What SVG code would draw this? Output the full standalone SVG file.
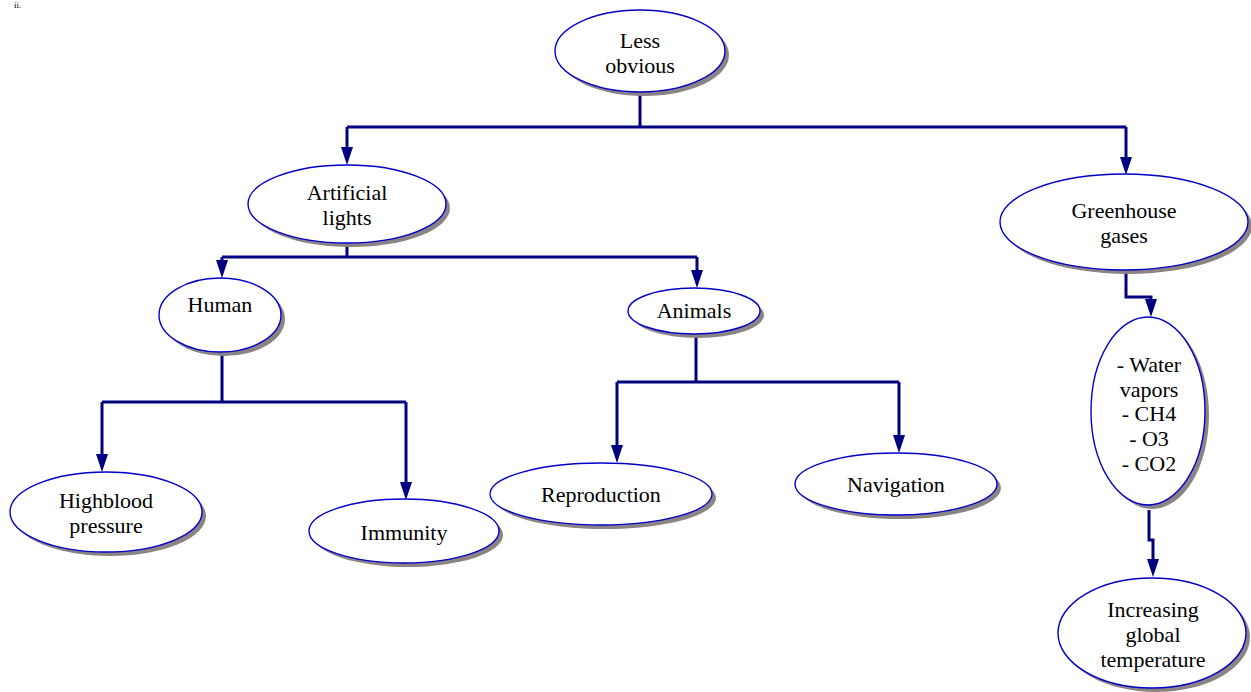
<svg xmlns="http://www.w3.org/2000/svg" width="1251" height="692" viewBox="0 0 1251 692" font-family="'Liberation Serif', 'Times New Roman', serif">
  <style>
    .shadow { fill: #8c8484; }
    .node { fill: #ffffff; stroke: #0000cc; stroke-width: 1.4; }
    .label { font-family: 'Liberation Serif', 'Times New Roman', 'DejaVu Serif', serif; font-size: 22px; fill: #000000; text-anchor: middle; }
    .link { fill: none; stroke: #000080; stroke-width: 3; }
    .mark { font-family: 'Liberation Serif', serif; font-size: 9px; fill: #000000; }
  </style>
  <defs>
    <marker id="arrow" markerUnits="userSpaceOnUse" markerWidth="18" markerHeight="12" viewBox="0 0 18 12" refX="0" refY="6" orient="auto">
      <path d="M0,0 L18,6 L0,12 z" fill="#000080"/>
    </marker>
  </defs>

  <rect width="1251" height="692" fill="#ffffff"/>
  <text class="mark" x="14" y="8">ii.</text>

  <!-- connectors -->
  <g id="connectors">
    <path class="link" d="M640,92 V127"/>
    <path class="link" d="M347,127 H1126"/>
    <path class="link" d="M347,127 V147" marker-end="url(#arrow)"/>
    <path class="link" d="M1126,127 V157" marker-end="url(#arrow)"/>

    <path class="link" d="M347,244 V257"/>
    <path class="link" d="M222,257 H697"/>
    <path class="link" d="M222,257 V260" marker-end="url(#arrow)"/>
    <path class="link" d="M697,257 V270" marker-end="url(#arrow)"/>

    <path class="link" d="M222,352 V402"/>
    <path class="link" d="M102,402 H406"/>
    <path class="link" d="M102,402 V454" marker-end="url(#arrow)"/>
    <path class="link" d="M406,402 V482" marker-end="url(#arrow)"/>

    <path class="link" d="M696,333 V382"/>
    <path class="link" d="M617,382 H899"/>
    <path class="link" d="M617,382 V445" marker-end="url(#arrow)"/>
    <path class="link" d="M899,382 V435" marker-end="url(#arrow)"/>

    <path class="link" d="M1126,270 V297 H1151 V299" marker-end="url(#arrow)"/>
    <path class="link" d="M1149,510 V540 H1153 V559" marker-end="url(#arrow)"/>
  </g>

  <!-- nodes -->
  <g id="less-obvious">
    <ellipse class="shadow" cx="644" cy="55" rx="85" ry="41"/>
    <ellipse class="node" cx="640" cy="51" rx="85" ry="41"/>
    <text class="label" x="640" y="48">Less</text>
    <text class="label" x="640" y="73">obvious</text>
  </g>

  <g id="artificial-lights">
    <ellipse class="shadow" cx="351" cy="208" rx="99" ry="39"/>
    <ellipse class="node" cx="347" cy="204" rx="99" ry="39"/>
    <text class="label" x="347" y="200">Artificial</text>
    <text class="label" x="347" y="225">lights</text>
  </g>

  <g id="greenhouse-gases">
    <ellipse class="shadow" cx="1128" cy="226" rx="124" ry="48"/>
    <ellipse class="node" cx="1124" cy="222" rx="124" ry="48"/>
    <text class="label" x="1124" y="218">Greenhouse</text>
    <text class="label" x="1124" y="243">gases</text>
  </g>

  <g id="human">
    <ellipse class="shadow" cx="224" cy="319" rx="61" ry="37"/>
    <ellipse class="node" cx="220" cy="315" rx="61" ry="37"/>
    <text class="label" x="220" y="312">Human</text>
  </g>

  <g id="animals">
    <ellipse class="shadow" cx="698" cy="315" rx="66" ry="23"/>
    <ellipse class="node" cx="694" cy="311" rx="66" ry="23"/>
    <text class="label" x="694" y="318">Animals</text>
  </g>

  <g id="highblood-pressure">
    <ellipse class="shadow" cx="110" cy="516" rx="96" ry="40"/>
    <ellipse class="node" cx="106" cy="512" rx="96" ry="40"/>
    <text class="label" x="106" y="508">Highblood</text>
    <text class="label" x="106" y="533">pressure</text>
  </g>

  <g id="immunity">
    <ellipse class="shadow" cx="408" cy="535" rx="95" ry="32"/>
    <ellipse class="node" cx="404" cy="531" rx="95" ry="32"/>
    <text class="label" x="404" y="540">Immunity</text>
  </g>

  <g id="reproduction">
    <ellipse class="shadow" cx="605" cy="498" rx="111" ry="31"/>
    <ellipse class="node" cx="601" cy="494" rx="111" ry="31"/>
    <text class="label" x="601" y="502">Reproduction</text>
  </g>

  <g id="navigation">
    <ellipse class="shadow" cx="900" cy="488" rx="101" ry="31"/>
    <ellipse class="node" cx="896" cy="484" rx="101" ry="31"/>
    <text class="label" x="896" y="492">Navigation</text>
  </g>

  <g id="gas-list">
    <ellipse class="shadow" cx="1152" cy="415" rx="57" ry="94"/>
    <ellipse class="node" cx="1148" cy="411" rx="57" ry="94"/>
    <text class="label" x="1149" y="372">- Water</text>
    <text class="label" x="1149" y="397">vapors</text>
    <text class="label" x="1149" y="421">- CH4</text>
    <text class="label" x="1149" y="446">- O3</text>
    <text class="label" x="1149" y="471">- CO2</text>
  </g>

  <g id="increasing-temperature">
    <ellipse class="shadow" cx="1156" cy="637" rx="94" ry="55"/>
    <ellipse class="node" cx="1152" cy="633" rx="94" ry="55"/>
    <text class="label" x="1153" y="617">Increasing</text>
    <text class="label" x="1153" y="642">global</text>
    <text class="label" x="1153" y="667">temperature</text>
  </g>
</svg>
